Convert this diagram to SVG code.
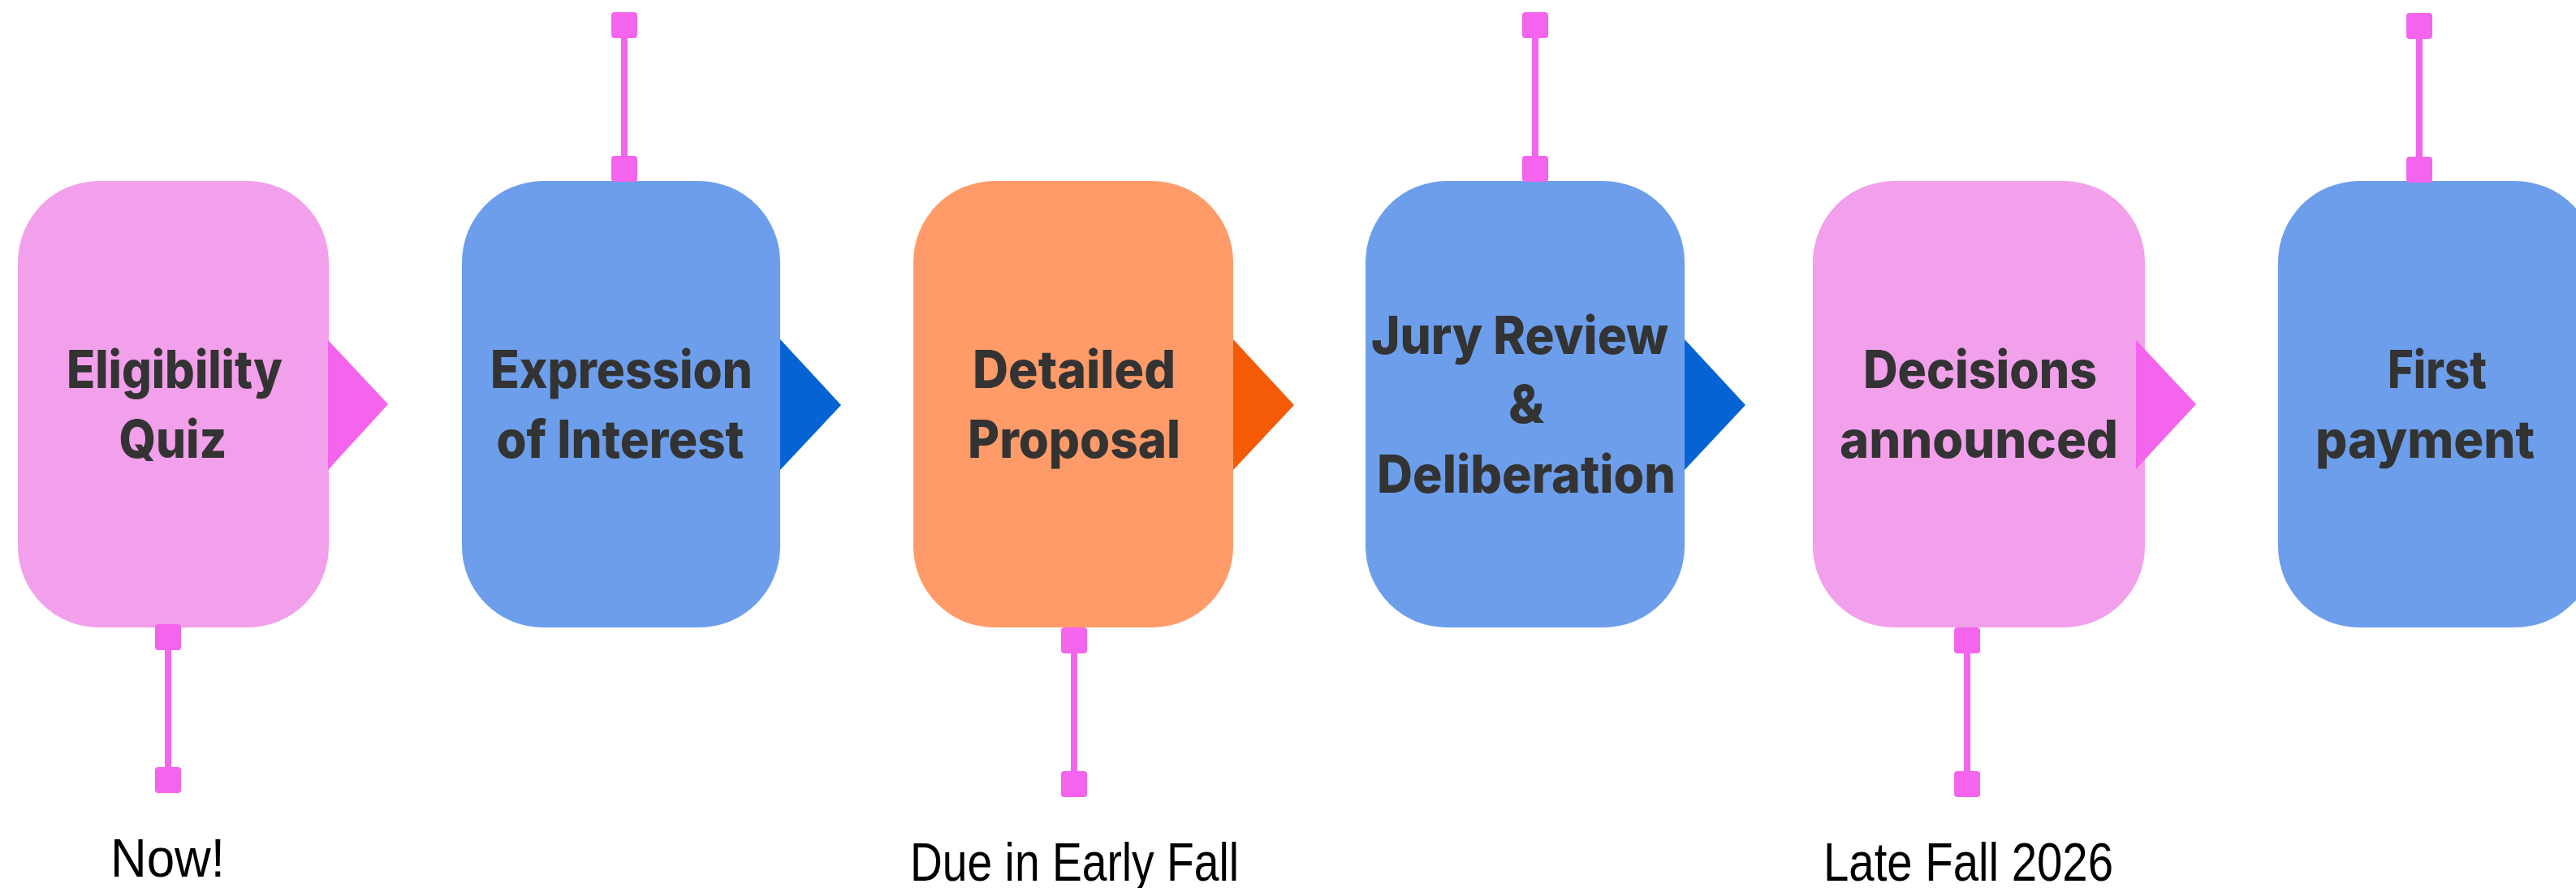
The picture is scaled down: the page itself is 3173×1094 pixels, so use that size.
<svg xmlns="http://www.w3.org/2000/svg" width="3173" height="1094" viewBox="0 0 3173 1094">
<style>
.pink{fill:#F2A0EB}
.blue{fill:#6C9EEB}
.orange{fill:#FF9B68}
.tri-mag{fill:#F464EC}
.tri-blue{fill:#0563D4}
.tri-orange{fill:#F55A06}
.lbl{font-family:Inter,"Liberation Sans",Arial,sans-serif;font-weight:800;font-size:64px;fill:#333333;text-anchor:middle}
.date{font-family:"Liberation Sans",Arial,sans-serif;font-weight:400;font-size:67px;fill:#000000;text-anchor:middle}
.pin{fill:#F464EC}
.stem{stroke:#F464EC;stroke-width:8}
</style>
<rect width="3173" height="1094" fill="#FFFFFF"/>

<g id="node-eligibility">
<rect class="pink" x="22" y="223" width="383" height="550" rx="100" ry="100"/>
<text class="lbl" x="215" y="478" textLength="266" lengthAdjust="spacingAndGlyphs">Eligibility</text>
<text class="lbl" x="213" y="564" textLength="133" lengthAdjust="spacingAndGlyphs">Quiz</text>
</g>

<g id="node-expression">
<rect class="blue" x="569" y="223" width="392" height="550" rx="100" ry="100"/>
<text class="lbl" x="765.5" y="478" textLength="323" lengthAdjust="spacingAndGlyphs">Expression</text>
<text class="lbl" x="764" y="564" textLength="305" lengthAdjust="spacingAndGlyphs">of Interest</text>
</g>

<g id="node-proposal">
<rect class="orange" x="1125" y="223" width="394" height="550" rx="100" ry="100"/>
<text class="lbl" x="1323" y="478" textLength="250" lengthAdjust="spacingAndGlyphs">Detailed</text>
<text class="lbl" x="1323" y="564" textLength="262" lengthAdjust="spacingAndGlyphs">Proposal</text>
</g>

<g id="node-jury">
<rect class="blue" x="1682" y="223" width="393" height="550" rx="100" ry="100"/>
<text class="lbl" x="1872" y="436" textLength="366" lengthAdjust="spacingAndGlyphs">Jury Review</text>
<text class="lbl" x="1880" y="521" textLength="44" lengthAdjust="spacingAndGlyphs">&amp;</text>
<text class="lbl" x="1880" y="607" textLength="368" lengthAdjust="spacingAndGlyphs">Deliberation</text>
</g>

<g id="node-decisions">
<rect class="pink" x="2233" y="223" width="409" height="550" rx="100" ry="100"/>
<text class="lbl" x="2439" y="478" textLength="288" lengthAdjust="spacingAndGlyphs">Decisions</text>
<text class="lbl" x="2437.5" y="564" textLength="343" lengthAdjust="spacingAndGlyphs">announced</text>
</g>

<g id="node-payment">
<rect class="blue" x="2806" y="223" width="392" height="550" rx="100" ry="100"/>
<text class="lbl" x="3002" y="478" textLength="122" lengthAdjust="spacingAndGlyphs">First</text>
<text class="lbl" x="2987" y="564" textLength="270" lengthAdjust="spacingAndGlyphs">payment</text>
</g>

<g id="connectors">
<polygon class="tri-mag" points="404,419 478,498 404,579"/>
<polygon class="tri-blue" points="961,418 1036,499 961,579"/>
<polygon class="tri-orange" points="1519,418 1594,499 1519,579"/>
<polygon class="tri-blue" points="2075,418 2150,499 2075,579"/>
<polygon class="tri-mag" points="2631,419 2705,498 2631,578"/>

<g id="pin-expression">
<line class="stem" x1="769" y1="40" x2="769" y2="200"/>
<rect class="pin" x="753" y="15" width="32" height="32" rx="4"/>
<rect class="pin" x="753" y="192" width="32" height="32" rx="4"/>
</g>
<g id="pin-jury">
<line class="stem" x1="1891" y1="40" x2="1891" y2="200"/>
<rect class="pin" x="1875" y="15" width="32" height="32" rx="4"/>
<rect class="pin" x="1875" y="192" width="32" height="32" rx="4"/>
</g>
<g id="pin-payment">
<line class="stem" x1="2980" y1="40" x2="2980" y2="200"/>
<rect class="pin" x="2964" y="16" width="32" height="32" rx="4"/>
<rect class="pin" x="2964" y="193" width="32" height="32" rx="4"/>
</g>
<g id="pin-eligibility">
<line class="stem" x1="207" y1="795" x2="207" y2="955"/>
<rect class="pin" x="191" y="769" width="32" height="32" rx="4"/>
<rect class="pin" x="191" y="945" width="32" height="32" rx="4"/>
</g>
<g id="pin-proposal">
<line class="stem" x1="1323" y1="800" x2="1323" y2="960"/>
<rect class="pin" x="1307" y="773" width="32" height="32" rx="4"/>
<rect class="pin" x="1307" y="950" width="32" height="32" rx="4"/>
</g>
<g id="pin-decisions">
<line class="stem" x1="2423" y1="800" x2="2423" y2="960"/>
<rect class="pin" x="2407" y="773" width="32" height="32" rx="4"/>
<rect class="pin" x="2407" y="950" width="32" height="32" rx="4"/>
</g>
</g>

<g id="dates">
<text class="date" x="206.5" y="1080" textLength="141" lengthAdjust="spacingAndGlyphs">Now!</text>
<text class="date" x="1323.5" y="1085" textLength="405" lengthAdjust="spacingAndGlyphs">Due in Early Fall</text>
<text class="date" x="2424.5" y="1085" textLength="357" lengthAdjust="spacingAndGlyphs">Late Fall 2026</text>
</g>
</svg>
